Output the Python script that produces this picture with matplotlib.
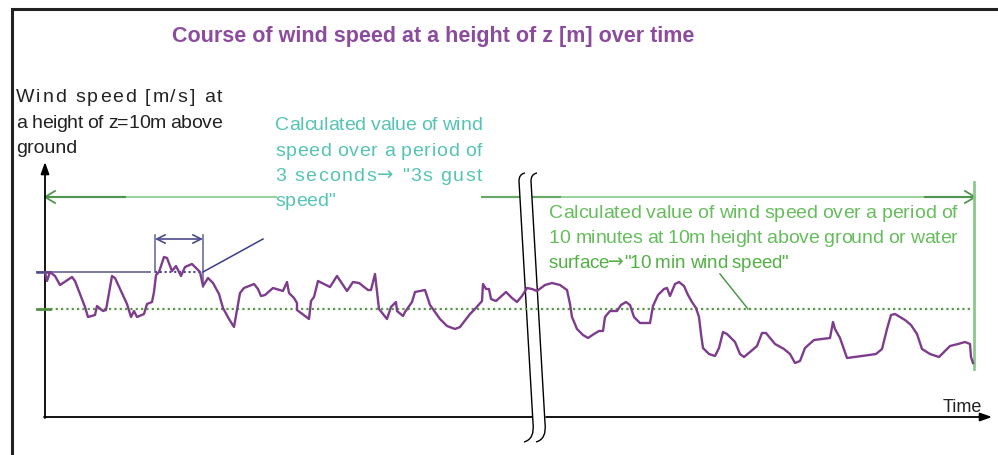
import matplotlib
matplotlib.use('Agg')
import matplotlib.pyplot as plt
from matplotlib import font_manager as fm
from matplotlib.patches import Polygon, PathPatch
from matplotlib.path import Path

# ---------------- data (time units / wind-speed units of the sketch) ----------------
time = [0, 2, 5, 10, 15, 21, 27, 30, 35, 40, 43, 50, 52, 58, 61, 67, 70, 76, 82, 86,
        89, 92, 99, 102, 107, 109, 111, 114, 119, 122, 127, 131, 136, 140, 147, 152, 155, 158, 163, 168,
        174, 178, 184, 189, 195, 199, 209, 213, 216, 220, 228, 238, 242, 244, 249, 252, 252, 260, 264, 266,
        269, 273, 285, 292, 302, 308, 314, 323, 326, 330, 334, 342, 346, 351, 352, 358, 360, 367, 370, 380,
        385, 395, 402, 410, 415, 425, 430, 437, 438, 441, 444, 446, 451, 461, 467, 472, 477, 482, 487, 492,
        500, 507, 515, 522, 525, 527, 532, 538, 543, 549, 554, 558, 560, 565, 572, 576, 581, 585, 589, 595,
        605, 608, 613, 619, 622, 625, 630, 634, 639, 643, 647, 651, 654, 656, 658, 664, 670, 674, 678, 682,
        690, 695, 699, 705, 712, 717, 721, 730, 739, 745, 750, 755, 760, 769, 777, 785, 788, 790, 795, 802,
        817, 831, 837, 842, 846, 850, 860, 866, 872, 877, 885, 894, 900, 905, 913, 920, 925, 926, 928]
wind_speed = [145, 136, 145, 141, 132, 136, 140, 136, 123, 110, 100, 102, 111, 106, 107, 141, 139, 126, 113, 100,
              106, 100, 103, 113, 115, 125, 142, 145, 160, 159, 146, 151, 141, 150, 153, 148, 145, 131, 139, 134,
              123, 109, 98, 90, 124, 129, 133, 128, 121, 122, 129, 126, 135, 124, 119, 114, 107, 101, 98, 116,
              120, 136, 130, 141, 126, 135, 134, 127, 127, 143, 108, 98, 110, 115, 106, 101, 105, 115, 125, 127,
              112, 98, 91, 88, 90, 103, 108, 116, 133, 128, 128, 118, 116, 125, 119, 115, 121, 129, 128, 126,
              132, 134, 132, 127, 113, 100, 88, 82, 79, 83, 86, 86, 100, 106, 106, 112, 115, 112, 100, 94,
              94, 111, 122, 128, 129, 121, 133, 135, 131, 122, 115, 109, 100, 83, 69, 63, 61, 69, 85, 83,
              75, 63, 60, 65, 71, 84, 84, 73, 68, 63, 54, 56, 69, 77, 78, 79, 95, 88, 79, 59,
              61, 63, 68, 88, 102, 103, 97, 92, 83, 68, 63, 60, 66, 71, 73, 75, 73, 60, 54]
gust_speed = 145        # "3s gust speed" level
mean_speed = 108        # "10 min wind speed" level
gust_window = (110, 158)
mean_window = (0, 928)

title = "Course of wind speed at a height of z [m] over time"
ylabel_lines = ["Wind speed [m/s] at", "a height of z=10m above", "ground"]
gust_lines = ["Calculated value of wind", "speed over a period of",
              "3 seconds\u2192 \"3s gust", "speed\""]
mean_lines = ["Calculated value of wind speed over a period of",
              "10 minutes at 10m height above ground or water",
              "surface\u2192\"10 min wind speed\""]
xlabel = "Time"

# ---------------- figure ----------------
W, H = 998, 456
fig = plt.figure(figsize=(W / 100, H / 100), dpi=100)
ax = fig.add_axes([0, 0, 1, 1])
ax.set_xlim(0, W)
ax.set_ylim(H, 0)
ax.axis('off')

X0, Y0 = 45, 418          # pixel origin of the chart
pax = fig.add_axes([X0 / W, (H - Y0) / H, (W - X0) / W, Y0 / H])
pax.set_xlim(0, W - X0)
pax.set_ylim(0, Y0)
pax.axis('off')
pax.patch.set_alpha(0)

names = {f.name for f in fm.fontManager.ttflist}
NARROW = 'Liberation Sans Narrow' if 'Liberation Sans Narrow' in names else 'Liberation Sans'
FAM = [NARROW, 'Liberation Sans', 'DejaVu Sans']

PURPLE = '#7d3c8c'
TEAL = '#55c4b4'
GREEN_T = '#66bd5c'
GREEN_D = '#4f964f'
GREEN_L = '#9cd09c'
NAVY = '#4b4b8c'
SLATE = '#6e6e9c'

# border
ax.plot([12, 12, W + 5], [H + 5, 10, 10], color='#222222', lw=2.2, solid_joinstyle='miter')

# axes arrows
ax.annotate('', xy=(X0, 163), xytext=(X0, Y0 + 1),
            arrowprops=dict(arrowstyle='-|>,head_length=0.7,head_width=0.25', color='black', lw=1.3,
                            shrinkA=0, shrinkB=0))
ax.annotate('', xy=(992, Y0), xytext=(X0 - 1, Y0),
            arrowprops=dict(arrowstyle='-|>,head_length=0.7,head_width=0.25', color='black', lw=1.3,
                            shrinkA=0, shrinkB=0))

# mean level (dotted) with small solid tick at the axis
pax.plot([mean_window[0], mean_window[1]], [mean_speed, mean_speed], color='#5a9a46', lw=1.6,
         linestyle=(0, (1, 1.4)), clip_on=False)
pax.plot([-8, 5], [mean_speed, mean_speed], color='#4f8f3f', lw=2, clip_on=False)

# gust level: solid then dotted over the 3s window
pax.plot([-8, gust_window[0] - 5], [gust_speed, gust_speed], color=SLATE, lw=1.3, clip_on=False)
pax.plot([-8, 5], [gust_speed, gust_speed], color=NAVY, lw=1.8, clip_on=False)
pax.plot([gust_window[0], gust_window[1]], [gust_speed, gust_speed], color=NAVY, lw=1.5,
         linestyle=(0, (1, 1.3)), clip_on=False)

# wind speed curve
pax.plot(time, wind_speed, color=PURPLE, lw=1.7, solid_joinstyle='round', clip_on=False)

# 3s window bracket
ax.plot([155, 155], [236, 273], color=SLATE, lw=1.2)
ax.plot([203, 203], [236, 288], color=SLATE, lw=1.2)
ax.annotate('', xy=(155, 240), xytext=(203, 240),
            arrowprops=dict(arrowstyle='<->,head_length=0.6,head_width=0.3', color=NAVY, lw=1.2,
                            shrinkA=0, shrinkB=0))
ax.plot([203, 263], [273, 240], color='#3c3c8c', lw=1.1)

# 10 min window arrow
ax.plot([X0, 276], [198, 198], color=GREEN_L, lw=1.5)
ax.plot([X0, 125], [198, 198], color=GREEN_D, lw=1.5)
ax.plot([482, 975], [198, 198], color=GREEN_L, lw=1.5)
ax.plot([482, 560], [198, 198], color='#6aa86a', lw=1.5)
ax.plot([925, 975], [198, 198], color=GREEN_D, lw=1.5)
ax.plot([X0 + 10, X0, X0 + 10], [192, 198, 204], color=GREEN_D, lw=1.3)
ax.plot([965, 975, 965], [192, 198, 204], color=GREEN_D, lw=1.3)
ax.plot([974, 974], [183, 370], color='#8cc88c', lw=2)
ax.plot([720, 748], [275, 310], color='#4f9a4f', lw=1.1)

# axis break
ax.add_patch(Polygon([(519, 180), (533, 426), (546, 426), (531, 182)], closed=True,
                     facecolor='white', edgecolor='none', zorder=5))
for dx in (0, 12):
    verts = [(525 + dx, 174), (519 + dx, 175), (519 + dx, 182),
             (533 + dx, 424),
             (535 + dx, 440), (524 + dx, 443)]
    codes = [Path.MOVETO, Path.CURVE3, Path.CURVE3, Path.LINETO, Path.CURVE3, Path.CURVE3]
    ax.add_patch(PathPatch(Path(verts, codes), facecolor='none', edgecolor='black', lw=1.0, zorder=6))

# ---------------- text ----------------
fig.canvas.draw()
r = fig.canvas.get_renderer()
ARROW = '\u2192'


def char_kw(c, kw):
    if c == ARROW:
        kw = dict(kw)
        kw['family'] = ['DejaVu Sans']
    return kw


def text_width(s, **kw):
    t = ax.text(0, 0, s, **kw)
    w = t.get_window_extent(r).width
    t.remove()
    return w


def layout(line, x0, y, gap, kw):
    space_w = text_width('a a', **kw) - text_width('aa', **kw)
    x = x0
    for c in line:
        ck = char_kw(c, kw)
        w = space_w if c == ' ' else text_width(c, **ck)
        if c != ' ':
            ax.text(x, y, c, va='baseline', ha='left', **ck)
        x += w + gap


def justify(line, x0, x1, y, **kw):
    """Spread the characters of one line evenly between x0 and x1 (letter spacing)."""
    space_w = text_width('a a', **kw) - text_width('aa', **kw)
    widths = [space_w if c == ' ' else text_width(c, **char_kw(c, kw)) for c in line]
    gap = (x1 - x0 - sum(widths)) / max(len(line) - 1, 1)
    layout(line, x0, y, gap, kw)


ax.text(433, 42, title, ha='center', va='baseline', fontsize=15.5, color='#8c4c9e',
        family=FAM, fontweight='bold')

BODY = dict(fontsize=14, family=FAM)
yl_base = [102, 128, 153]
justify(ylabel_lines[0], 16, 222, yl_base[0], color='#222222', **BODY)
justify(ylabel_lines[1], 16, 222, yl_base[1], color='#222222', **BODY)
ax.text(16, yl_base[2], ylabel_lines[2], va='baseline', color='#222222', **BODY)

g_base = [130, 156, 181, 206]
for i, line in enumerate(gust_lines):
    if i < 3:
        justify(line, 275, 482, g_base[i], color=TEAL, **BODY)
    else:
        layout(line, 275, g_base[i], 0.0, dict(color=TEAL, **BODY))

m_base = [218, 243, 268]
justify(mean_lines[0], 549, 957, m_base[0], color=GREEN_T, **BODY)
justify(mean_lines[1], 549, 957, m_base[1], color=GREEN_T, **BODY)
layout(mean_lines[2], 549, m_base[2], -0.3, dict(color='#52b043', fontsize=13.5, family=FAM))

ax.text(943, 412, xlabel, va='baseline', fontsize=13, color='#222222', family=FAM)

fig.savefig('out.png', dpi=100)
